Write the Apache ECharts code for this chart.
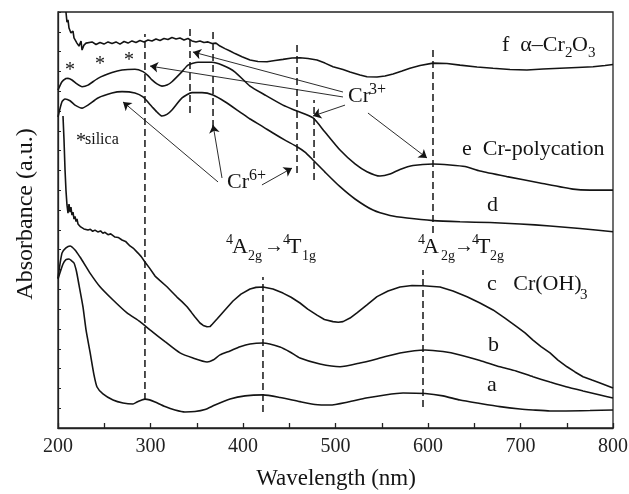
<!DOCTYPE html>
<html>
<head>
<meta charset="utf-8">
<script src="https://cdn.jsdelivr.net/npm/echarts@6/dist/echarts.min.js"></script>
<style>
  html, body { margin: 0; padding: 0; background: #ffffff; }
  #chart { width: 629px; height: 494px; }
</style>
</head>
<body>
<div id="chart"></div>
<script>
// UV-vis absorbance spectra, wavelength in nm vs. offset absorbance (a.u.)
const xTickLabels = [200, 300, 400, 500, 600, 700, 800];

const curveA = [[200,7.52],[205.4,8.28],[208.6,8.5],[211.9,8.53],[214.5,8.45],[217.3,8.33],[220,7.9],[222.7,7.22],[227,6.11],[230.3,4.95],[234.6,3.84],[238.9,2.68],[242.2,2.07],[248.6,1.72],[259.5,1.41],[270.3,1.26],[281.1,1.21],[285.4,1.31],[290,1.4],[294,1.46],[299,1.42],[304.9,1.31],[315.7,1.08],[326.5,0.91],[337.3,0.81],[348.1,0.83],[358.9,0.93],[369.7,1.16],[386,1.46],[402.2,1.62],[421.6,1.67],[440,1.54],[461.6,1.33],[477.8,1.19],[494,1.16],[513.5,1.31],[533,1.51],[553.5,1.67],[573,1.77],[596.8,1.74],[616.2,1.62],[634.6,1.41],[656.2,1.24],[677.8,1.08],[699.5,0.96],[713.5,0.91],[731.9,0.86],[749.2,0.86],[775.1,0.88],[800,0.91]];

const curveB = [[200,7.57],[204.3,8.83],[208.6,9.09],[213,9.19],[218.4,8.99],[223.8,8.63],[229.2,8.23],[234.6,7.82],[245.4,7.13],[259.5,6.46],[274.6,5.81],[288.6,5.37],[299.5,4.95],[315.7,4.36],[331.9,3.79],[346,3.53],[361.1,3.33],[367.6,3.43],[375.1,3.69],[386,3.89],[396.8,4.1],[407.6,4.24],[421.6,4.29],[440,4.09],[450.8,3.84],[461.6,3.53],[483.2,3.23],[504.9,3.09],[526.5,3.28],[548.1,3.53],[569.7,3.79],[596.8,3.94],[616.2,3.86],[634.6,3.69],[656.2,3.41],[677.8,3.09],[695.1,2.88],[713.5,2.59],[731.9,2.32],[749.2,2.08],[767.6,1.87],[786,1.67],[800,1.51]];

const curveC = [[205.4,15.75],[206.5,14.54],[207.6,13.02],[208.6,12.01],[209.7,11.26],[210.8,10.85],[211.9,11.3],[213,10.9],[214,11.15],[215.1,10.75],[216.2,10.9],[217.3,10.55],[218.4,10.68],[219.5,10.42],[220.5,10.55],[221.6,10.3],[223,10.38],[224.5,10.15],[226,10.22],[228,10.05],[230,10.12],[232.4,9.99],[235,10.03],[237.5,9.93],[240,9.99],[243,9.9],[246,9.95],[248.5,9.83],[250.8,9.88],[254,9.76],[257,9.8],[261.6,9.64],[265,9.62],[269.2,9.49],[273,9.42],[277.8,9.19],[282,9.05],[286.5,8.83],[290,8.65],[294,8.38],[299,8.07],[304.9,7.67],[310,7.45],[317.8,7.13],[323,6.88],[328.6,6.61],[334,6.38],[339.5,6.12],[344,5.85],[348.1,5.6],[353.5,5.3],[357,5.18],[361.1,5.11],[364.3,5.12],[367,5.25],[371.9,5.5],[376,5.72],[380.5,5.96],[389.2,6.41],[397.8,6.76],[407.6,7.02],[414,7.1],[421.6,7.12],[432.4,7.02],[443.2,6.81],[452,6.6],[461.6,6.31],[470,6.0],[480,5.7],[488,5.48],[497.3,5.37],[503,5.34],[508.1,5.37],[515.7,5.55],[523.2,5.81],[534,6.21],[544.9,6.63],[556.8,6.92],[569.7,7.12],[582.7,7.19],[594.6,7.18],[613,7.12],[627,6.92],[642.2,6.63],[656.2,6.31],[670.3,5.96],[683.2,5.55],[696.2,5.11],[704.9,4.8],[713.5,4.44],[722.2,4.11],[731.9,3.79],[740.5,3.43],[750.3,3.09],[758.9,2.83],[767.6,2.59],[777.3,2.42],[786,2.27],[800,2.02]];

const curveD = [[200,15.7],[204.3,16.47],[207.6,16.61],[213,16.52],[218.4,16.3],[226,16.15],[232.4,16.3],[243.2,16.66],[258.4,16.91],[269.2,16.98],[283.2,16.91],[291.9,16.71],[301.6,16.22],[307,15.95],[312.4,15.75],[317.8,15.83],[323.2,16.05],[334.1,16.66],[344.9,16.93],[355.7,16.93],[367.6,16.81],[380.5,16.47],[396.8,15.95],[407.6,15.6],[420.5,15.24],[432.4,14.89],[445.4,14.53],[458.4,14.2],[467,13.93],[475.7,13.53],[488.6,12.92],[504.9,12.18],[521.1,11.56],[540.5,11.0],[558.9,10.73],[577.3,10.6],[605.4,10.47],[634.6,10.41],[667,10.37],[699.5,10.3],[731.9,10.2],[764.3,10.07],[800,9.91]];

const curveE = [[200,17.06],[204.3,17.48],[208.6,17.64],[210.8,17.65],[215.1,17.57],[220.5,17.37],[226,17.23],[232.4,17.31],[243.2,17.65],[258.4,17.94],[269.2,18.07],[283.2,18.11],[291.9,17.99],[297.3,17.79],[301.6,17.57],[307,17.37],[312.4,17.26],[317.8,17.31],[323.2,17.48],[334.1,17.99],[340.5,18.32],[351.4,18.46],[366.5,18.46],[377.3,18.32],[391.4,17.97],[407.6,17.26],[423.8,16.81],[443.2,16.3],[458.4,16.0],[475.7,15.65],[488.6,14.94],[504.9,14.03],[521.1,13.33],[534,12.94],[548.1,12.72],[558.9,12.82],[569.7,13.05],[583.8,13.25],[605.4,13.33],[623.8,13.28],[640,13.2],[656.2,12.97],[685.4,12.69],[721.1,12.37],[756.8,12.06],[775.1,12.01],[800,12.01]];

const curveF = [[208.6,21.0],[209.7,20.49],[210.8,20.6],[211.9,20.19],[213,20.29],[214,19.94],[215.1,19.84],[216.2,20.04],[217.3,19.69],[218.4,19.59],[220.5,19.43],[222.7,19.28],[224.9,19.53],[226,19.08],[227,19.13],[228.1,19.33],[230.3,19.43],[232.4,19.38],[236.8,19.49],[241.1,19.36],[245.4,19.46],[249.7,19.38],[254.1,19.49],[258.4,19.41],[262.7,19.49],[267,19.38],[271.4,19.51],[275.7,19.43],[280,19.54],[284.3,19.46],[288.6,19.56],[293,19.49],[297.3,19.59],[301.6,19.54],[305.9,19.64],[310.3,19.56],[314.6,19.66],[318.9,19.61],[323.2,19.71],[327.6,19.64],[331.9,19.69],[336.2,19.59],[340.5,19.66],[344.9,19.54],[349.2,19.49],[353.5,19.54],[357.8,19.46],[362.2,19.49],[366.5,19.41],[370.8,19.43],[375.1,19.28],[380.5,19.15],[386,19.03],[391.4,18.9],[398.9,18.74],[407.6,18.58],[416.2,18.5],[425.9,18.49],[434.6,18.55],[443.2,18.61],[453,18.68],[461.6,18.69],[470.3,18.65],[480,18.58],[488.6,18.42],[497.3,18.24],[508.1,18.1],[515.7,17.97],[526.5,17.82],[534,17.73],[544.9,17.72],[553.5,17.77],[562.2,17.87],[571.9,18.02],[580.5,18.16],[591.4,18.3],[605.4,18.42],[620.5,18.4],[634.6,18.32],[653,18.22],[670.3,18.16],[688.6,18.1],[707,18.07],[724.3,18.12],[742.7,18.16],[761.1,18.2],[778.4,18.24],[791.4,18.3],[800,18.35]];

// Band positions: [wavelength, lower end, upper end]
const bandMarkers = [[294,1.41,19.89],[342.7,15.9,20.34],[367.6,15.19,20.19],[458.4,12.87,19.33],[476.8,12.52,16.56],[605.4,9.84,19.08],[421.6,0.81,7.62],[594.6,1.06,7.97]];

// Pointer arrows: [from wavelength, from value, to wavelength, to value]
const pointerArrows = [
  [373.0,12.42,270.3,16.46],
  [377.3,12.62,367.6,15.30],
  [420.5,12.27,453.0,13.12],
  [508.1,16.96,345.9,18.98],
  [508.1,16.71,299.5,18.27],
  [510.3,16.30,475.7,15.75],
  [535.1,15.90,598.9,13.63]
];

const SERIF = '"Liberation Serif","Times New Roman",serif';
const INK = '#141414';

const chart = echarts.init(document.getElementById('chart'), null, { renderer: 'canvas' });

function spectrum(data, smooth) {
  return {
    type: 'line', data: data, showSymbol: false, symbol: 'none',
    smooth: smooth, clip: true,
    lineStyle: { color: INK, width: 1.6 },
    z: 3, silent: true
  };
}

const bandSeries = bandMarkers.map(b => ({
  type: 'line', data: [[b[0], b[1]], [b[0], b[2]]],
  showSymbol: false, symbol: 'none',
  lineStyle: { color: INK, width: 1.5, type: [7, 4] },
  z: 2, silent: true
}));

const arrowSeries = {
  type: 'lines', coordinateSystem: 'cartesian2d',
  data: pointerArrows.map(a => ({ coords: [[a[0], a[1]], [a[2], a[3]]] })),
  symbol: ['none', 'arrow'], symbolSize: 8,
  lineStyle: { color: INK, width: 0.9, opacity: 1, curveness: 0 },
  z: 4, silent: true
};

// text helpers: place by baseline
function t(x, base, str, size, align) {
  return {
    type: 'text', silent: true, z: 10,
    style: {
      x: x, y: base - 0.3375 * size, text: str,
      font: size + 'px ' + SERIF, fill: INK,
      textAlign: align || 'left', textVerticalAlign: 'middle',
      align: align || 'left', verticalAlign: 'middle'
    }
  };
}

const graphics = [
  // curve names
  t(502, 53, 'f  \u03b1\u2013Cr', 22), t(565, 58, '2', 15), t(572, 53, 'O', 22), t(588, 58, '3', 15),
  t(462, 157, 'e  Cr-polycation', 22),
  t(487, 213, 'd', 22),
  t(487, 292, 'c   Cr(OH)', 22), t(580, 300, '3', 15),
  t(488, 353, 'b', 22),
  t(487, 393, 'a', 22),
  // ion labels
  t(227, 190, 'Cr', 22), t(249, 181, '6+', 16),
  t(348, 104, 'Cr', 22), t(369, 95, '3+', 16),
  // silica marks
  t(76, 148, '*', 20), t(85, 145, 'silica', 16),
  t(70, 77, '*', 20, 'center'), t(100, 71, '*', 20, 'center'), t(129, 67, '*', 20, 'center'),
  // d-d transitions
  t(226, 245, '4', 14), t(232, 255, 'A', 22), t(248, 261, '2g', 14), t(264, 253, '\u2192', 20),
  t(283, 245, '4', 14), t(288, 255, 'T', 22), t(302, 261, '1g', 14),
  t(418, 245, '4', 14), t(423, 255, 'A', 22), t(441, 261, '2g', 14), t(454, 253, '\u2192', 20),
  t(472, 245, '4', 14), t(477, 255, 'T', 22), t(490, 261, '2g', 14),
  // axis titles
  t(336, 487, 'Wavelength (nm)', 23, 'center'),
  {
    type: 'text', silent: true, z: 10, x: 26, y: 214, rotation: Math.PI / 2,
    style: {
      x: 0, y: 0, text: 'Absorbance (a.u.)', font: '24px ' + SERIF, fill: INK,
      textAlign: 'center', textVerticalAlign: 'middle', align: 'center', verticalAlign: 'middle'
    }
  }
];

const option = {
  animation: false,
  backgroundColor: '#ffffff',
  grid: {
    left: 58, right: 16, top: 12, bottom: 66,
    containLabel: false, outerBoundsMode: 'none',
    show: true, borderColor: '#222', borderWidth: 1.3, backgroundColor: 'transparent'
  },
  xAxis: {
    type: 'value', min: 200, max: 800, interval: 50,
    axisLine: { show: true, lineStyle: { color: '#222', width: 1.3 } },
    axisTick: { show: true, inside: true, length: 5, lineStyle: { color: '#222', width: 1.3 } },
    axisLabel: {
      show: true, margin: 9, fontFamily: SERIF, fontSize: 20, color: '#222',
      formatter: v => (xTickLabels.indexOf(v) >= 0 ? String(v) : '')
    },
    splitLine: { show: false }
  },
  yAxis: {
    type: 'value', min: 0, max: 21, interval: 1,
    axisLine: { show: true, lineStyle: { color: '#222', width: 1.3 } },
    axisTick: { show: true, inside: true, length: 3, lineStyle: { color: '#222', width: 1 } },
    axisLabel: { show: false },
    splitLine: { show: false }
  },
  series: [
    spectrum(curveA, 0.2),
    spectrum(curveB, 0.2),
    spectrum(curveC, false),
    spectrum(curveD, 0.2),
    spectrum(curveE, 0.2),
    spectrum(curveF, false),
    ...bandSeries,
    arrowSeries
  ],
  graphic: graphics
};

chart.setOption(option);
</script>
</body>
</html>
